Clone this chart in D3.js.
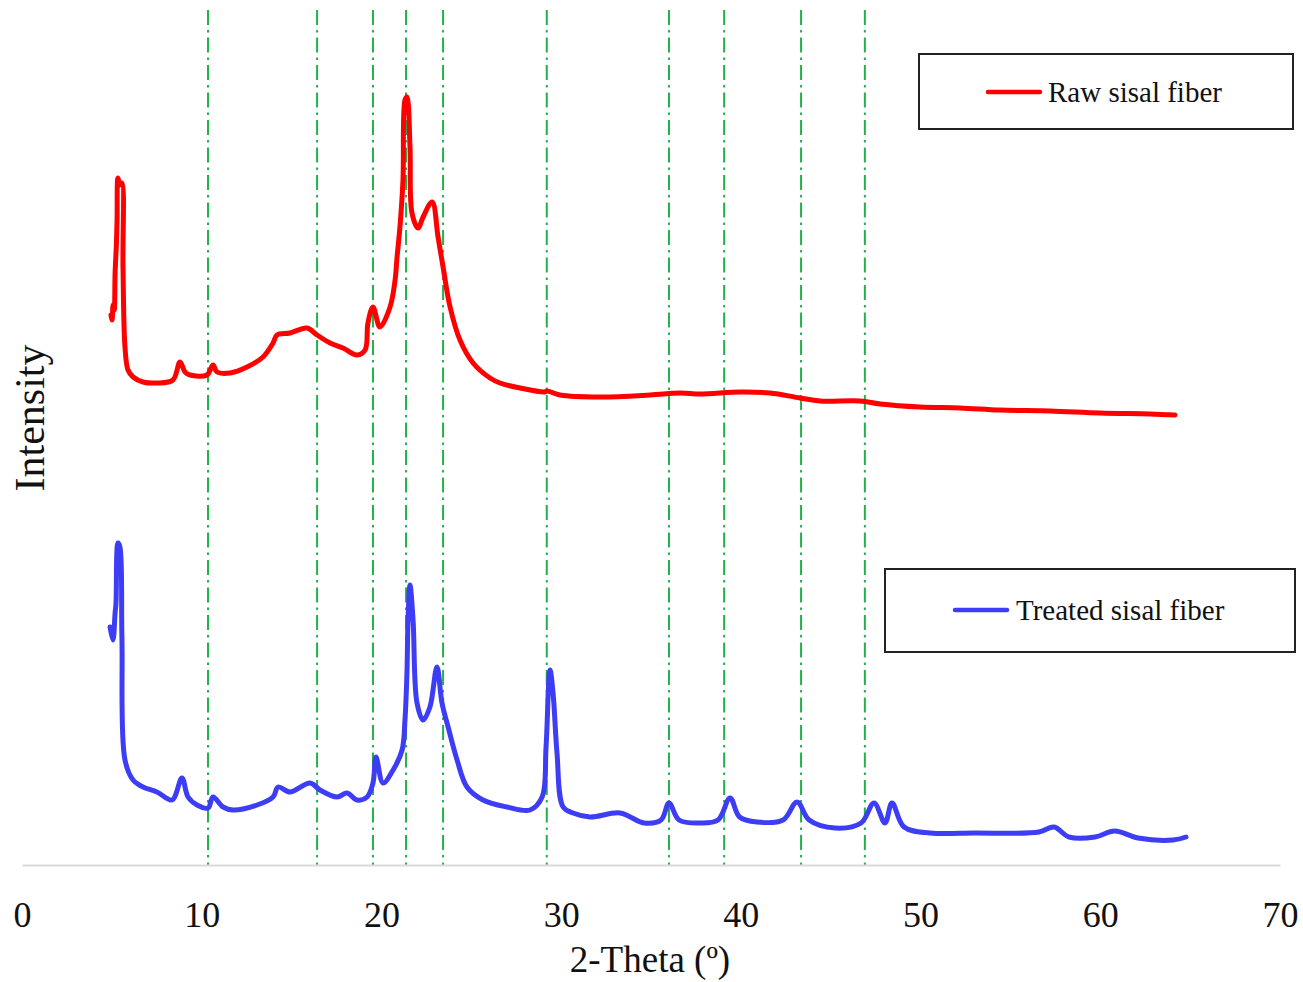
<!DOCTYPE html>
<html>
<head>
<meta charset="utf-8">
<script src="https://cdn.jsdelivr.net/npm/d3@7"></script>
<style>
  html, body { margin: 0; padding: 0; background: #fff; }
  svg { display: block; }
</style>
</head>
<body>
<svg id="chart" width="1303" height="982"></svg>
<script>
// XRD patterns of sisal fiber (intensity in arbitrary units, curves offset vertically)
const xTicks = [0, 10, 20, 30, 40, 50, 60, 70];
const seriesNames = ["Raw sisal fiber", "Treated sisal fiber"];
const peakPositions = [10.35, 16.42, 19.53, 21.37, 23.43, 29.2, 36.0, 39.07, 43.35, 46.9];

const thetaRaw = [4.95, 5.01, 5.07, 5.13, 5.18, 5.25, 5.29, 5.34, 5.45, 5.56, 5.62, 5.73, 5.90, 6.18, 6.73,
  7.51, 8.40, 8.79, 9.07, 9.35, 10.29, 10.63, 10.85, 11.57, 12.52, 13.41, 13.97, 14.19, 14.91, 15.86,
  16.42, 17.14, 17.86, 18.64, 19.09, 19.25, 19.53, 19.92, 20.48, 20.76, 20.87, 21.03, 21.20, 21.31,
  21.42, 21.59, 21.70, 22.04, 22.32, 22.82, 23.15, 23.43, 23.82, 24.37, 25.10, 26.04, 26.60, 27.71,
  29.10, 29.21, 29.94, 32.16, 34.95, 36.62, 37.73, 39.96, 41.62, 43.29, 44.41, 46.63, 47.75, 49.97,
  52.20, 54.42, 57.21, 59.99, 62.77, 64.16];
const intensityRaw = [550, 545, 560, 555, 592, 620, 645, 687, 680, 682, 598, 518, 495, 488, 483,
  482, 485, 503, 493, 490, 490, 500, 493, 492, 498, 508, 522, 530, 532, 537,
  530, 522, 517, 510, 515, 542, 558, 538, 558, 585, 608, 638, 685, 765,
  768, 718, 652, 637, 648, 663, 628, 598, 558, 525, 502, 487, 482, 477,
  473, 474, 470, 468, 470, 472, 471, 473, 472, 467, 464, 464, 461, 458,
  457, 455, 454, 452, 451, 450];

const thetaTreated = [4.90, 5.06, 5.18, 5.23, 5.34, 5.45, 5.56, 5.73, 6.18, 6.73, 7.51, 8.35, 8.90, 9.24,
  9.74, 10.35, 10.63, 11.19, 11.74, 13.08, 13.97, 14.25, 14.91, 16.03, 16.58, 17.53, 18.09, 18.64,
  19.20, 19.53, 19.70, 20.09, 20.65, 21.15, 21.31, 21.42, 21.48, 21.59, 21.76, 21.98, 22.32, 22.70,
  23.09, 23.37, 23.71, 24.21, 24.76, 25.65, 26.99, 28.27, 28.94, 29.16, 29.38, 29.55, 29.77, 30.11,
  30.66, 31.61, 33.28, 34.61, 35.56, 36.00, 36.56, 37.73, 38.73, 39.40, 39.93, 40.90, 42.35, 43.13,
  43.80, 45.24, 46.69, 47.41, 48.02, 48.41, 49.08, 50.53, 52.98, 56.59, 57.43, 58.26, 59.71, 60.80,
  62.10, 64.05, 64.77];
const intensityTreated = [238, 225, 252, 262, 322, 318, 228, 105, 85, 78, 73, 65, 87, 68,
  60, 57, 68, 58, 55, 60, 68, 78, 73, 82, 75, 68, 72, 65,
  68, 82, 108, 82, 95, 115, 145, 192, 245, 280, 245, 162, 145, 158,
  198, 162, 138, 105, 78, 65, 58, 55, 68, 118, 195, 172, 112, 58,
  52, 48, 52, 42, 45, 62, 45, 42, 45, 67, 48, 43, 45, 63,
  45, 37, 42, 62, 42, 62, 38, 32, 32, 33, 38, 28, 28, 34,
  27, 25, 28];

const colors = ["#ff0000", "#3d3df5"];

const svg = d3.select("#chart");
const serif = "'Liberation Serif', 'Times New Roman', serif";

const x = d3.scaleLinear().domain([0, 70]).range([22, 1280]);
const y = d3.scaleLinear().domain([0, 865]).range([865, 0]);

// reference peak lines
svg.append("g").selectAll("line")
  .data(peakPositions)
  .join("line")
  .attr("x1", d => x(d)).attr("x2", d => x(d))
  .attr("y1", 10).attr("y2", y(0))
  .attr("stroke", "#22b24c")
  .attr("stroke-width", 2)
  .attr("stroke-dasharray", "15,5,2.5,5");

// x axis
const xAxis = svg.append("g")
  .attr("transform", `translate(0,${y(0)})`)
  .call(d3.axisBottom(x).tickValues(xTicks).tickSize(0).tickSizeOuter(0).tickPadding(36)
    .tickFormat(d3.format("d")));
xAxis.select(".domain").attr("stroke", "#d9d9d9").attr("stroke-width", 2);
xAxis.selectAll(".tick text")
  .attr("font-family", serif).attr("font-size", 36).attr("fill", "#111")
  .attr("dy", "0.71em");

// axis titles
svg.append("text")
  .attr("x", 650).attr("y", 972)
  .attr("text-anchor", "middle")
  .attr("font-family", serif).attr("font-size", 37).attr("fill", "#111")
  .text("2-Theta (º)");

svg.append("text")
  .attr("transform", "translate(44,418) rotate(-90)")
  .attr("text-anchor", "middle")
  .attr("font-family", serif).attr("font-size", 42).attr("fill", "#111")
  .text("Intensity");

// curves
const line = d3.line().x(d => x(d[0])).y(d => y(d[1])).curve(d3.curveCatmullRom.alpha(0.5));
const series = [
  d3.zip(thetaRaw, intensityRaw),
  d3.zip(thetaTreated, intensityTreated)
];
svg.append("g").selectAll("path")
  .data(series)
  .join("path")
  .attr("d", line)
  .attr("fill", "none")
  .attr("stroke", (d, i) => colors[i])
  .attr("stroke-width", 5)
  .attr("stroke-linejoin", "round")
  .attr("stroke-linecap", "round");

// legends
const legends = [
  { box: [919, 54, 374, 75], line: [988, 1040, 92], text: [1048, 102] },
  { box: [885, 569, 410, 83], line: [955, 1007, 610], text: [1016, 620] }
];
const lg = svg.append("g").selectAll("g").data(legends).join("g");
lg.append("rect")
  .attr("x", d => d.box[0]).attr("y", d => d.box[1])
  .attr("width", d => d.box[2]).attr("height", d => d.box[3])
  .attr("fill", "#fff").attr("stroke", "#222").attr("stroke-width", 2);
lg.append("line")
  .attr("x1", d => d.line[0]).attr("x2", d => d.line[1])
  .attr("y1", d => d.line[2]).attr("y2", d => d.line[2])
  .attr("stroke", (d, i) => colors[i]).attr("stroke-width", 4.5).attr("stroke-linecap", "round");
lg.append("text")
  .attr("x", d => d.text[0]).attr("y", d => d.text[1])
  .attr("font-family", serif).attr("font-size", 29).attr("fill", "#111")
  .text((d, i) => seriesNames[i]);
</script>
</body>
</html>
